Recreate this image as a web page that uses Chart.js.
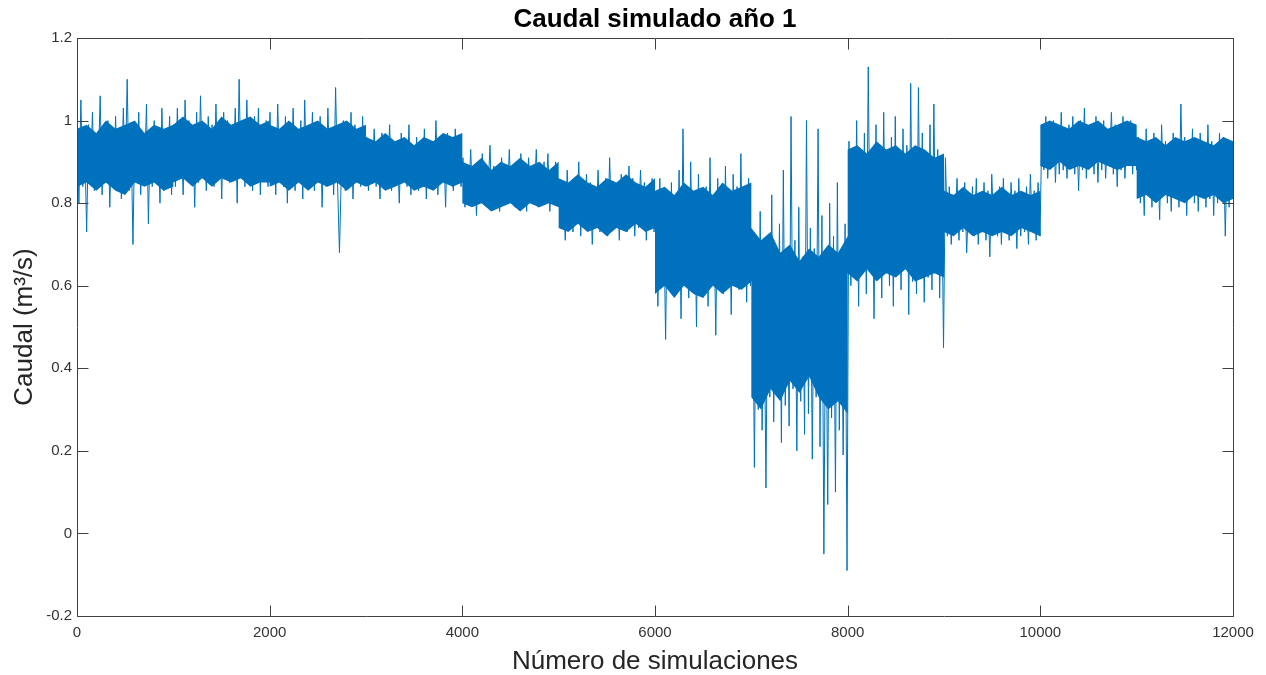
<!DOCTYPE html>
<html>
<head>
<meta charset="utf-8">
<title>Caudal simulado año 1</title>
<script src="https://cdn.jsdelivr.net/npm/chart.js@4/dist/chart.umd.min.js"></script>
<style>
  html, body { margin: 0; padding: 0; background: #ffffff; }
  #caja { width: 1266px; height: 675px; }
</style>
</head>
<body>
<div id="caja"><canvas id="graficoCaudal" width="1266" height="675"></canvas></div>
<script>
// caudal simulado (m3/s), un bloque por cada 1000 simulaciones (picos y valles leidos cada ~20)
var bloque1  = [0.96,0.80, 1.05,0.84, 0.95,0.73, 0.99,0.86, 1.02,0.83, 0.97,0.88, 1.06,0.82, 0.94,0.85, 1.00,0.79, 0.98,0.87, 1.01,0.84, 0.96,0.81, 1.03,0.86, 1.10,0.83, 0.97,0.70, 0.99,0.85, 1.02,0.82, 0.95,0.87, 1.04,0.75, 0.98,0.84, 1.00,0.86, 0.96,0.80, 1.03,0.83, 0.97,0.88, 1.01,0.82];
var bloque2  = [0.99,0.84, 1.03,0.87, 0.97,0.82, 1.05,0.86, 1.00,0.88, 0.98,0.79, 1.02,0.85, 1.06,0.87, 0.96,0.83, 1.01,0.89, 0.99,0.84, 1.04,0.86, 0.97,0.81, 1.02,0.88, 1.00,0.85, 0.98,0.87, 1.03,0.80, 1.10,0.86, 0.99,0.84, 1.05,0.88, 0.97,0.83, 1.01,0.86, 1.03,0.82, 0.98,0.87, 1.00,0.84];
var bloque3  = [1.02,0.85, 0.98,0.82, 1.04,0.87, 0.97,0.84, 1.01,0.80, 0.99,0.86, 1.03,0.83, 0.96,0.88, 1.00,0.81, 1.05,0.85, 0.97,0.87, 1.02,0.83, 0.99,0.86, 1.01,0.79, 0.98,0.84, 1.03,0.87, 0.96,0.82, 1.08,0.85, 0.68,0.88, 1.00,0.83, 0.97,0.86, 1.02,0.81, 0.99,0.87, 0.98,0.84, 1.01,0.85];
var bloque4  = [0.96,0.83, 0.93,0.86, 0.98,0.84, 0.94,0.81, 0.97,0.85, 0.92,0.87, 0.99,0.83, 0.95,0.85, 0.93,0.80, 0.97,0.86, 0.95,0.84, 0.99,0.82, 0.94,0.86, 0.96,0.83, 0.92,0.85, 0.98,0.81, 0.95,0.87, 0.93,0.84, 1.00,0.82, 0.96,0.85, 0.94,0.79, 0.97,0.86, 0.93,0.83, 0.98,0.85, 0.95,0.84];
var bloque5  = [0.91,0.79, 0.88,0.81, 0.93,0.80, 0.87,0.77, 0.90,0.82, 0.92,0.80, 0.88,0.83, 0.94,0.79, 0.89,0.81, 0.87,0.78, 0.91,0.82, 0.89,0.80, 0.93,0.81, 0.88,0.79, 0.90,0.82, 0.92,0.80, 0.87,0.78, 0.91,0.81, 0.89,0.83, 0.93,0.79, 0.88,0.80, 0.90,0.82, 0.92,0.78, 0.87,0.81, 0.90,0.80];
var bloque6  = [0.85,0.74, 0.83,0.71, 0.88,0.76, 0.84,0.73, 0.86,0.75, 0.90,0.72, 0.83,0.76, 0.87,0.74, 0.85,0.70, 0.82,0.75, 0.88,0.73, 0.84,0.76, 0.86,0.72, 0.91,0.75, 0.83,0.74, 0.85,0.71, 0.87,0.76, 0.84,0.73, 0.89,0.75, 0.86,0.72, 0.83,0.74, 0.88,0.76, 0.85,0.71, 0.84,0.75, 0.86,0.73];
var bloque7  = [0.80,0.55, 0.86,0.62, 0.78,0.47, 0.83,0.60, 0.85,0.58, 0.81,0.64, 0.88,0.52, 0.98,0.61, 0.79,0.57, 0.90,0.63, 0.82,0.50, 0.87,0.59, 0.80,0.62, 0.84,0.55, 0.91,0.60, 0.78,0.48, 0.86,0.63, 0.83,0.58, 0.89,0.61, 0.81,0.53, 0.87,0.64, 0.84,0.59, 0.92,0.62, 0.82,0.56, 0.86,0.60];
var bloque8  = [0.72,0.16, 0.65,0.30, 0.78,0.25, 0.60,0.11, 0.70,0.33, 0.82,0.27, 0.66,0.36, 0.75,0.22, 0.88,0.31, 0.63,0.26, 1.01,0.35, 0.71,0.20, 0.79,0.32, 0.67,0.24, 1.00,0.29, 0.74,0.18, 0.69,0.33, 0.98,0.21, 0.77,-0.05, 0.64,0.07, 0.80,0.28, 0.72,0.10, 0.85,0.25, 0.68,0.19, 0.75,-0.09];
var bloque9  = [0.95,0.60, 0.88,0.66, 1.00,0.55, 0.92,0.63, 0.97,0.58, 1.13,0.65, 0.90,0.52, 0.99,0.62, 0.93,0.57, 1.02,0.64, 0.89,0.60, 0.96,0.55, 1.01,0.63, 0.91,0.59, 0.98,0.66, 0.94,0.53, 1.09,0.61, 0.92,0.58, 1.08,0.64, 0.97,0.56, 0.90,0.62, 0.99,0.59, 1.04,0.65, 0.93,0.57, 0.88,0.45];
var bloque10 = [0.91,0.72, 0.84,0.70, 0.82,0.74, 0.86,0.71, 0.83,0.73, 0.85,0.68, 0.81,0.74, 0.84,0.72, 0.86,0.70, 0.82,0.73, 0.85,0.71, 0.83,0.67, 0.87,0.74, 0.82,0.72, 0.84,0.70, 0.86,0.73, 0.81,0.71, 0.85,0.74, 0.83,0.69, 0.86,0.72, 0.82,0.73, 0.84,0.70, 0.87,0.74, 0.83,0.71, 0.85,0.72];
var bloque11 = [0.99,0.88, 1.01,0.86, 0.97,0.89, 1.00,0.85, 0.98,0.87, 1.02,0.88, 0.97,0.86, 0.99,0.89, 1.01,0.87, 0.98,0.83, 1.00,0.88, 1.03,0.86, 0.97,0.89, 0.99,0.87, 1.01,0.85, 0.98,0.88, 1.00,0.86, 0.97,0.89, 1.02,0.87, 0.99,0.84, 0.98,0.88, 1.01,0.86, 0.97,0.89, 1.00,0.87, 0.99,0.88];
var bloque12 = [0.96,0.80, 0.93,0.77, 0.98,0.82, 0.94,0.79, 0.97,0.81, 0.92,0.76, 0.99,0.83, 0.95,0.80, 0.93,0.78, 0.97,0.82, 0.94,0.79, 1.04,0.81, 0.96,0.77, 0.93,0.83, 0.98,0.80, 0.95,0.78, 0.97,0.82, 0.93,0.79, 0.99,0.81, 0.95,0.77, 0.94,0.80, 0.97,0.82, 0.96,0.72, 0.93,0.79, 0.95,0.81];

// franja densa de la serie: bordes superior e inferior de cada bloque, cada 100 simulaciones (0..1000)
var franjaSup = [
  0.98,0.99,0.97,1.00,0.98,0.99,1.00,0.97,0.99,0.98,0.99,
  0.99,1.01,0.99,1.00,0.98,1.01,0.99,1.00,1.01,0.99,1.00,
  0.99,0.98,1.00,0.98,0.99,1.00,0.98,0.99,1.00,0.98,0.99,
  0.96,0.95,0.97,0.95,0.96,0.94,0.96,0.95,0.97,0.96,0.97,
  0.90,0.89,0.91,0.88,0.90,0.89,0.91,0.89,0.90,0.88,0.90,
  0.86,0.85,0.87,0.85,0.84,0.86,0.85,0.87,0.85,0.84,0.86,
  0.83,0.84,0.82,0.85,0.83,0.84,0.82,0.85,0.83,0.84,0.85,
  0.74,0.71,0.73,0.68,0.70,0.66,0.69,0.67,0.70,0.68,0.72,
  0.93,0.94,0.92,0.95,0.93,0.94,0.92,0.94,0.93,0.91,0.92,
  0.83,0.82,0.84,0.82,0.83,0.82,0.84,0.82,0.83,0.82,0.83,
  0.99,1.00,0.99,0.98,1.00,0.99,1.00,0.98,0.99,1.00,0.99,
  0.96,0.95,0.96,0.94,0.96,0.95,0.96,0.95,0.94,0.96,0.95
];
var franjaInf = [
  0.84,0.85,0.83,0.85,0.83,0.82,0.85,0.84,0.85,0.83,0.84,
  0.85,0.86,0.84,0.86,0.84,0.86,0.85,0.86,0.84,0.85,0.85,
  0.84,0.85,0.83,0.85,0.83,0.85,0.84,0.85,0.83,0.85,0.84,
  0.84,0.85,0.83,0.84,0.85,0.83,0.84,0.83,0.85,0.84,0.85,
  0.80,0.79,0.80,0.78,0.79,0.80,0.78,0.80,0.79,0.80,0.79,
  0.74,0.73,0.75,0.73,0.74,0.72,0.74,0.73,0.75,0.73,0.74,
  0.58,0.60,0.57,0.60,0.58,0.57,0.60,0.58,0.60,0.59,0.61,
  0.33,0.30,0.35,0.32,0.37,0.34,0.38,0.33,0.30,0.32,0.29,
  0.63,0.61,0.64,0.61,0.63,0.62,0.64,0.61,0.62,0.63,0.62,
  0.73,0.72,0.74,0.72,0.73,0.72,0.73,0.72,0.74,0.73,0.72,
  0.89,0.88,0.90,0.88,0.89,0.88,0.90,0.89,0.88,0.89,0.89,
  0.81,0.82,0.80,0.82,0.81,0.80,0.82,0.81,0.82,0.80,0.81
];

var totalSimulaciones = 12000;
var tamBloque = 1000;
var ticksX = [0, 2000, 4000, 6000, 8000, 10000, 12000];
var ticksY = [-0.2, 0, 0.2, 0.4, 0.6, 0.8, 1, 1.2];

var caudal = [].concat(bloque1, bloque2, bloque3, bloque4, bloque5, bloque6,
                       bloque7, bloque8, bloque9, bloque10, bloque11, bloque12);
var paso = totalSimulaciones / (caudal.length - 1);
var puntos = caudal.map(function (v, i) { return {x: i * paso, y: v}; });

// 11 valores por bloque, del inicio al final del bloque
var porBloque = 11;
function aPuntos(lista) {
  return lista.map(function (v, i) {
    var b = Math.floor(i / porBloque), j = i % porBloque;
    return {x: b * tamBloque + j * tamBloque / (porBloque - 1), y: v};
  });
}
var puntosSup = aPuntos(franjaSup);
var puntosInf = aPuntos(franjaInf);

var azul = '#0072BD';
var fuente = "'Liberation Sans', Arial, Helvetica, sans-serif";
var colorEjes = '#404040';

// caja de ejes con marcas hacia adentro, como en matlab
var marcoEjes = {
  id: 'marcoEjes',
  afterDatasetsDraw: function (chart) {
    var ctx = chart.ctx, a = chart.chartArea;
    var sx = chart.scales.x, sy = chart.scales.y;
    var l = Math.round(a.left) + 0.5, r = Math.round(a.right) + 0.5;
    var t = Math.round(a.top) + 0.5, b = Math.round(a.bottom) + 0.5;
    var largo = 11;
    ctx.save();
    ctx.strokeStyle = colorEjes;
    ctx.lineWidth = 1;
    ctx.beginPath();
    ctx.rect(l, t, r - l, b - t);
    ticksX.forEach(function (v) {
      var px = Math.round(sx.getPixelForValue(v)) + 0.5;
      ctx.moveTo(px, b); ctx.lineTo(px, b - largo);
      ctx.moveTo(px, t); ctx.lineTo(px, t + largo);
    });
    ticksY.forEach(function (v) {
      var py = Math.round(sy.getPixelForValue(v)) + 0.5;
      ctx.moveTo(l, py); ctx.lineTo(l + largo, py);
      ctx.moveTo(r, py); ctx.lineTo(r - largo, py);
    });
    ctx.stroke();
    ctx.restore();
  }
};

var ctx = document.getElementById('graficoCaudal').getContext('2d');
new Chart(ctx, {
  type: 'line',
  data: {
    datasets: [{
      label: 'Caudal',
      data: puntos,
      borderColor: azul,
      borderWidth: 1,
      pointRadius: 0,
      tension: 0,
      fill: false,
      order: 0
    }, {
      label: 'franja sup',
      data: puntosSup,
      borderColor: azul,
      borderWidth: 0,
      backgroundColor: azul,
      pointRadius: 0,
      fill: '+1',
      order: 1
    }, {
      label: 'franja inf',
      data: puntosInf,
      borderColor: azul,
      borderWidth: 0,
      pointRadius: 0,
      fill: false,
      order: 2
    }]
  },
  options: {
    responsive: false,
    animation: false,
    parsing: false,
    normalized: true,
    layout: { padding: { left: 0, right: 33, top: 0, bottom: 0 } },
    plugins: {
      legend: { display: false },
      tooltip: { enabled: false },
      title: {
        display: true,
        text: 'Caudal simulado año 1',
        fullSize: false,
        color: '#000000',
        font: { family: fuente, size: 26, weight: 'bold', lineHeight: 1.2 },
        padding: { top: 4, bottom: 2.8 }
      }
    },
    scales: {
      x: {
        type: 'linear',
        min: 0,
        max: totalSimulaciones,
        afterFit: function (scale) { scale.height = 59; },
        afterBuildTicks: function (scale) {
          scale.ticks = ticksX.map(function (v) { return {value: v}; });
        },
        grid: { display: false, drawTicks: false },
        border: { display: false },
        ticks: {
          color: '#333333',
          padding: 8,
          maxRotation: 0,
          font: { family: fuente, size: 15 },
          callback: function (v) { return String(v); }
        },
        title: {
          display: true,
          text: 'Número de simulaciones',
          color: '#262626',
          font: { family: fuente, size: 26, lineHeight: 1.2 },
          padding: { top: 0, bottom: -2 }
        }
      },
      y: {
        type: 'linear',
        min: -0.2,
        max: 1.2,
        afterFit: function (scale) { scale.width = 77; },
        afterBuildTicks: function (scale) {
          scale.ticks = ticksY.map(function (v) { return {value: v}; });
        },
        grid: { display: false, drawTicks: false },
        border: { display: false },
        ticks: {
          color: '#333333',
          padding: 5,
          font: { family: fuente, size: 15 },
          callback: function (v) { return String(v); }
        },
        title: {
          display: true,
          text: 'Caudal (m³/s)',
          color: '#262626',
          font: { family: fuente, size: 26, lineHeight: 1.2 },
          padding: { top: 9, bottom: 0 }
        }
      }
    }
  },
  plugins: [marcoEjes]
});
</script>
</body>
</html>
